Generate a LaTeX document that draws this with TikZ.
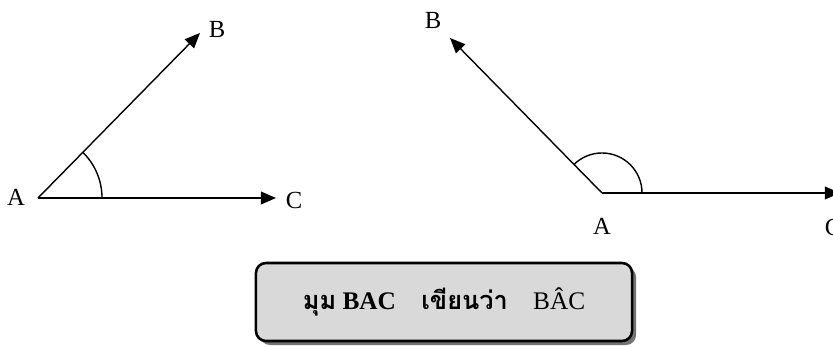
\documentclass[tikz,border=0pt]{standalone}
\usepackage{fontspec}
\setmainfont{Liberation Serif}
\newfontfamily\thaifont[Script=Thai]{Loma}
\usepackage{tikz}
\usetikzlibrary{arrows.meta,positioning,calc,shadows}

\begin{document}
\begin{tikzpicture}[
    x=0.025cm, y=0.025cm,
  arr/.style={-{Triangle[length=0.38cm,width=0.32cm]}, line width=1pt},
  ang/.style={line width=1pt},
  lab/.style={font=\fontsize{17.5}{20}\selectfont, inner sep=0pt},
  capbox/.style={draw, line width=1.8pt, rounded corners=0.25cm, fill=black!15,
    minimum width=9.4cm, minimum height=1.95cm,
    drop shadow={shadow xshift=0.1cm, shadow yshift=-0.1cm, fill=black!55, opacity=1},
    font=\fontsize{18}{20}\selectfont}
]
\useasboundingbox (0,0) rectangle (833,347);

% ===== ACUTE ANGLE =====
\coordinate (l_A) at (38,149);
\coordinate (l_B) at (200,314);
\coordinate (l_C) at (276,149);
\node[lab] (l_Alab) at (16,150) {A};
\node[lab] (l_Blab) at (217,318) {B};
\node[lab] (l_Clab) at (294,147) {C};

\draw[arr] (l_A) -- (l_B);
\draw[arr] (l_A) -- (l_C);
\draw[ang] ($(l_A)+(1.6cm,0)$) arc[start angle=0, end angle=45.5, radius=1.6cm];

% ===== OBTUSE ANGLE =====
\coordinate (r_A) at (602,154);
\coordinate (r_B) at (450,309);
\coordinate (r_C) at (840,154);
\node[lab] (r_Alab) at (602,121) {A};
\node[lab] (r_Blab) at (433,327) {B};
\node[lab] (r_Clab) at (833,120) {C};

\draw[arr] (r_A) -- (r_B);
\draw[arr] (r_A) -- (r_C);
\draw[ang] ($(r_A)+(1.0cm,0)$) arc[start angle=0, end angle=134.4, radius=1.0cm];

% ===== CAPTION =====
\node[capbox] (caption) at (444,45)
  {{\thaifont\bfseries มุม} \textbf{BAC}\quad {\thaifont\bfseries เขียนว่า}\quad B\^{A}C\hspace{1.6cm}};

\end{tikzpicture}
\end{document}
